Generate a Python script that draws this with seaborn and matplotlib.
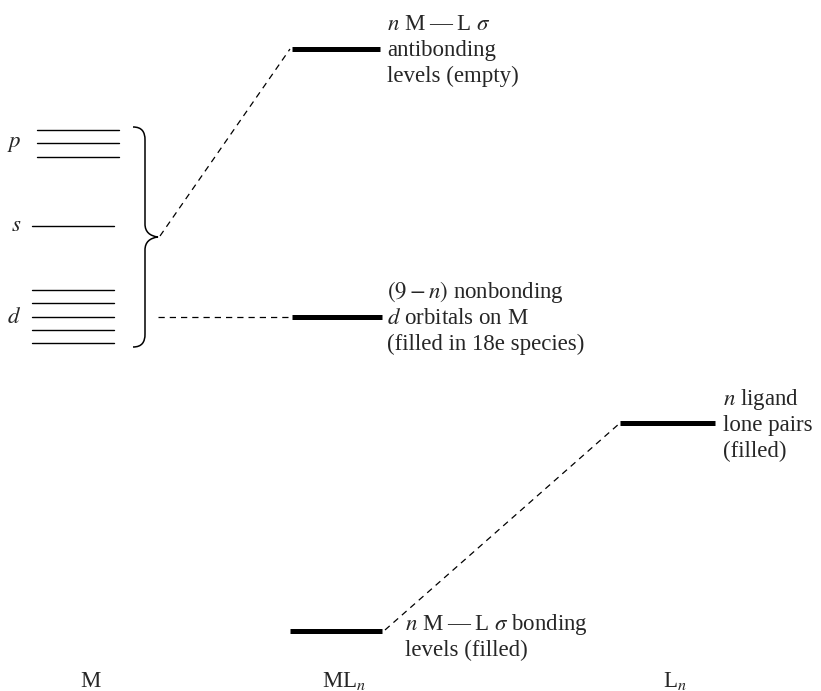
import matplotlib
matplotlib.use("Agg")
import matplotlib.pyplot as plt
import seaborn as sns
import pandas as pd
from matplotlib.path import Path
from matplotlib.patches import PathPatch

# ---------------- data (diagram units: x to the right, y downward) ----------------
# metal atomic orbital levels (column M)
p_levels = [130, 143, 157]
s_levels = [226]
d_levels = [290, 303, 317, 330, 343]
metal_p_span = [37, 119]
metal_sd_span = [32, 114]

# molecular levels of ML_n and ligand levels L_n
mo_names = ["antibonding", "nonbonding", "bonding", "ligand"]
mo_y = [49, 317, 631, 423]
mo_x0 = [292, 292, 290, 620]
mo_x1 = [380, 382, 382, 715]

# correlation (dashed) lines
corr_from_x = [160, 158, 385]
corr_from_y = [236, 317, 630]
corr_to_x = [290, 290, 620]
corr_to_y = [49, 317, 423]

# column labels
col_labels = ["M", "ML$_n$", "L$_n$"]
col_x = [90, 344, 675]

# level annotations
ann_texts = [
    ["$n$ M\u2009\u2014\u2009L $\\sigma$", "antibonding", "levels (empty)"],
    ["$(9-n)$ nonbonding", "$d$ orbitals on M", "(filled in 18e species)"],
    ["$n$ M\u2009\u2014\u2009L $\\sigma$ bonding", "levels (filled)"],
    ["$n$ ligand", "lone pairs", "(filled)"],
]
ann_x = [387, 387, 405, 723]
ann_first_baseline = [30, 298, 630, 405]

# ---------------- style ----------------
sns.set_theme(style="white")
plt.rcParams["font.family"] = ["Liberation Serif", "DejaVu Serif"]
plt.rcParams["mathtext.fontset"] = "stix"

fig = plt.figure(figsize=(8.21, 6.91), dpi=100)
ax = fig.add_axes([0, 0, 1, 1])
ax.set_xlim(0, 821)
ax.set_ylim(691, 0)
ax.axis("off")

FS = 16.5
LINE = 26

# metal levels (thin) through seaborn
rows = []
seg = 0
for y in p_levels:
    rows += [(metal_p_span[0], y, seg), (metal_p_span[1], y, seg)]
    seg += 1
for y in s_levels + d_levels:
    rows += [(metal_sd_span[0], y, seg), (metal_sd_span[1], y, seg)]
    seg += 1
thin = pd.DataFrame(rows, columns=["x", "y", "seg"])
sns.lineplot(data=thin, x="x", y="y", units="seg", estimator=None, sort=False,
             color="black", lw=1.0, ax=ax, legend=False)

# molecular levels (thick)
rows = []
for i, (x0, x1, y) in enumerate(zip(mo_x0, mo_x1, mo_y)):
    rows += [(x0, y, i), (x1, y, i)]
thick = pd.DataFrame(rows, columns=["x", "y", "seg"])
sns.lineplot(data=thick, x="x", y="y", units="seg", estimator=None, sort=False,
             color="black", lw=3.6, ax=ax, legend=False, solid_capstyle="butt")

# correlation lines (dashed)
for x0, y0, x1, y1 in zip(corr_from_x, corr_from_y, corr_to_x, corr_to_y):
    ax.plot([x0, x1], [y0, y1], color="black", lw=0.9, linestyle=(0, (5, 4)))

# brace grouping metal orbitals
verts = [
    (133, 127), (142, 127), (145, 132), (145, 140),
    (145, 224),
    (145, 232), (150, 236), (158, 237),
    (150, 238), (145, 242), (145, 250),
    (145, 334),
    (145, 342), (142, 347), (133, 347),
]
codes = [Path.MOVETO, Path.CURVE4, Path.CURVE4, Path.CURVE4,
         Path.LINETO,
         Path.CURVE4, Path.CURVE4, Path.CURVE4,
         Path.CURVE4, Path.CURVE4, Path.CURVE4,
         Path.LINETO,
         Path.CURVE4, Path.CURVE4, Path.CURVE4]
ax.add_patch(PathPatch(Path(verts, codes), fill=False, lw=1.1, edgecolor="black"))

# orbital letters
ax.text(14, p_levels[1] + 4, "$p$", fontsize=FS, ha="center", va="baseline")
ax.text(16, s_levels[0] + 5, "$s$", fontsize=FS, ha="center", va="baseline")
ax.text(14, d_levels[2] + 6, "$d$", fontsize=FS, ha="center", va="baseline")

# annotations
for lines, x, yb in zip(ann_texts, ann_x, ann_first_baseline):
    for k, t in enumerate(lines):
        ax.text(x, yb + k * LINE, t, fontsize=FS, ha="left", va="baseline")

# column labels
for lab, x in zip(col_labels, col_x):
    ax.text(x, 687, lab, fontsize=FS, ha="center", va="baseline")

fig.savefig("out.png", dpi=100)
